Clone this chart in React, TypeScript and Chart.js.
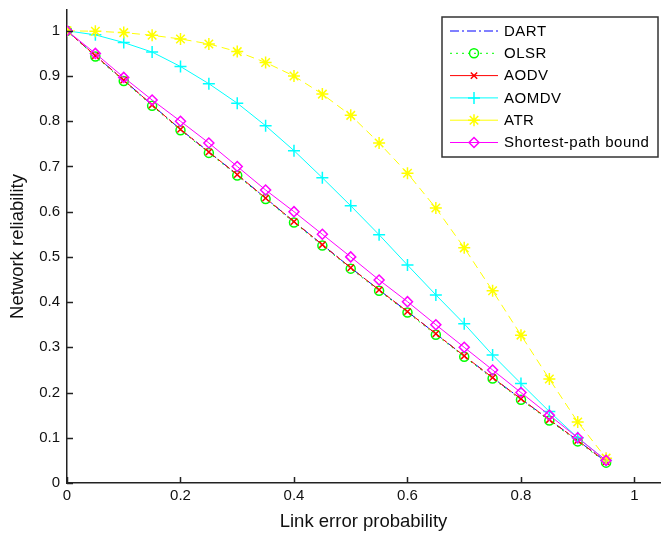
import React, { useEffect, useRef } from "react";
import { Chart, registerables } from "chart.js";

Chart.register(...registerables);

const xValues = [0, 0.05, 0.1, 0.15, 0.2, 0.25, 0.3, 0.35, 0.4, 0.45, 0.5, 0.55, 0.6, 0.65, 0.7, 0.75, 0.8, 0.85, 0.9, 0.95];
const dart = [1, 0.945, 0.891, 0.836, 0.782, 0.732, 0.682, 0.63, 0.578, 0.527, 0.476, 0.427, 0.379, 0.33, 0.281, 0.233, 0.186, 0.14, 0.094, 0.047];
const olsr = [1, 0.943, 0.889, 0.834, 0.78, 0.73, 0.68, 0.628, 0.576, 0.525, 0.474, 0.425, 0.377, 0.328, 0.279, 0.231, 0.184, 0.138, 0.092, 0.045];
const aodv = [1, 0.945, 0.891, 0.836, 0.782, 0.732, 0.682, 0.63, 0.578, 0.527, 0.476, 0.427, 0.379, 0.33, 0.281, 0.233, 0.186, 0.14, 0.094, 0.047];
const aomdv = [1, 0.991, 0.974, 0.953, 0.921, 0.883, 0.84, 0.79, 0.735, 0.675, 0.613, 0.549, 0.482, 0.416, 0.352, 0.283, 0.22, 0.158, 0.1, 0.05];
const atr = [1, 0.999, 0.996, 0.99, 0.982, 0.971, 0.954, 0.93, 0.9, 0.86, 0.813, 0.752, 0.685, 0.608, 0.52, 0.425, 0.327, 0.23, 0.135, 0.055];
const shortest = [1, 0.95, 0.897, 0.847, 0.8, 0.752, 0.7, 0.648, 0.6, 0.55, 0.5, 0.449, 0.401, 0.35, 0.3, 0.25, 0.2, 0.15, 0.1, 0.05];

const seriesNames = ["DART", "OLSR", "AODV", "AOMDV", "ATR", "Shortest-path bound"];
const xTicks = [0, 0.2, 0.4, 0.6, 0.8, 1];
const yTicks = [0, 0.1, 0.2, 0.3, 0.4, 0.5, 0.6, 0.7, 0.8, 0.9, 1];
const xTitle = "Link error probability";
const yTitle = "Network reliability";

const FONT = "'Liberation Sans', Arial, Helvetica, sans-serif";

const toPoints = (ys: number[]) => xValues.map((x, i) => ({ x, y: ys[i] }));

const fmt = (v: number) => String(Number(v.toFixed(2)));

const inwardTicks = {
  id: "inwardTicks",
  afterDraw(chart: any) {
    const { ctx } = chart;
    const xs = chart.scales.x;
    const ys = chart.scales.y;
    const area = chart.chartArea;
    ctx.save();
    ctx.strokeStyle = "#222";
    ctx.lineWidth = 1.5;
    ctx.beginPath();
    xs.ticks.forEach((t: any) => {
      const px = Math.round(xs.getPixelForValue(t.value)) + 0.5;
      ctx.moveTo(px, area.bottom);
      ctx.lineTo(px, area.bottom - 6);
    });
    ys.ticks.forEach((t: any) => {
      const py = Math.round(ys.getPixelForValue(t.value)) + 0.5;
      ctx.moveTo(area.left, py);
      ctx.lineTo(area.left + 6, py);
    });
    ctx.stroke();
    ctx.restore();
  },
};

function drawMarker(ctx: CanvasRenderingContext2D, style: string, r: number, x: number, y: number) {
  ctx.beginPath();
  if (style === "circle") {
    ctx.arc(x, y, r, 0, Math.PI * 2);
  } else if (style === "rectRot") {
    ctx.moveTo(x, y - r);
    ctx.lineTo(x + r, y);
    ctx.lineTo(x, y + r);
    ctx.lineTo(x - r, y);
    ctx.closePath();
  } else if (style === "cross") {
    ctx.moveTo(x - r, y);
    ctx.lineTo(x + r, y);
    ctx.moveTo(x, y - r);
    ctx.lineTo(x, y + r);
  } else if (style === "crossRot") {
    const d = r * 0.7071;
    ctx.moveTo(x - d, y - d);
    ctx.lineTo(x + d, y + d);
    ctx.moveTo(x - d, y + d);
    ctx.lineTo(x + d, y - d);
  } else if (style === "star") {
    const d = r * 0.7071;
    ctx.moveTo(x - r, y);
    ctx.lineTo(x + r, y);
    ctx.moveTo(x, y - r);
    ctx.lineTo(x, y + r);
    ctx.moveTo(x - d, y - d);
    ctx.lineTo(x + d, y + d);
    ctx.moveTo(x - d, y + d);
    ctx.lineTo(x + d, y - d);
  }
  ctx.stroke();
}

const boxLegend = {
  id: "boxLegend",
  afterDraw(chart: any) {
    const { ctx } = chart;
    const bx = 442, by = 17, bw = 216, bh = 140;
    ctx.save();
    ctx.fillStyle = "#fff";
    ctx.fillRect(bx, by, bw, bh);
    ctx.strokeStyle = "#333";
    ctx.lineWidth = 1.5;
    ctx.strokeRect(bx, by, bw, bh);
    chart.data.datasets.forEach((ds: any, i: number) => {
      const y = 31 + i * 22.3;
      ctx.strokeStyle = ds.borderColor;
      ctx.lineWidth = 1;
      ctx.setLineDash(ds.legendDash || []);
      ctx.beginPath();
      ctx.moveTo(450, y);
      ctx.lineTo(498, y);
      ctx.stroke();
      ctx.setLineDash([]);
      if (ds.pointRadius > 0) {
        ctx.lineWidth = ds.pointBorderWidth || 1;
        ctx.strokeStyle = ds.borderColor;
        drawMarker(ctx, ds.pointStyle, ds.pointRadius, 474, y);
      }
      ctx.fillStyle = "#000";
      ctx.font = `15px ${FONT}`;
      try {
        (ctx as any).letterSpacing = "0.5px";
      } catch (e) {}
      ctx.textBaseline = "middle";
      ctx.textAlign = "left";
      ctx.fillText(ds.label, 504, y + 0.5);
      try {
        (ctx as any).letterSpacing = "0px";
      } catch (e) {}
    });
    ctx.restore();
  },
};

export default function App() {
  const ref = useRef<HTMLCanvasElement | null>(null);

  useEffect(() => {
    if (!ref.current) return;
    const mk = (
      label: string,
      ys: number[],
      color: string,
      dash: number[],
      legendDash: number[],
      pointStyle: any,
      radius: number,
      idx: number
    ) => ({
      label,
      data: toPoints(ys),
      borderColor: color,
      backgroundColor: "rgba(0,0,0,0)",
      borderWidth: 1,
      borderDash: dash,
      legendDash,
      pointStyle: pointStyle || "circle",
      pointRadius: pointStyle ? radius : 0,
      pointHoverRadius: pointStyle ? radius : 0,
      pointBorderColor: color,
      pointBackgroundColor: "rgba(0,0,0,0)",
      pointBorderWidth: 1.5,
      tension: 0,
      fill: false,
      order: -idx,
    });

    const chart = new Chart(ref.current, {
      type: "line",
      data: {
        datasets: [
          mk(seriesNames[0], dart, "#0000ff", [9, 3, 2, 3], [9, 3, 2, 3], null, 0, 0),
          mk(seriesNames[1], olsr, "#00ff00", [2, 4], [2, 4], "circle", 4.5, 1),
          mk(seriesNames[2], aodv, "#ff0000", [6, 3], [], "crossRot", 4.5, 2),
          mk(seriesNames[3], aomdv, "#00ffff", [], [], "cross", 6, 3),
          mk(seriesNames[4], atr, "#ffff00", [8, 5], [], "star", 6, 4),
          mk(seriesNames[5], shortest, "#ff00ff", [], [], "rectRot", 5, 5),
        ] as any,
      },
      options: {
        responsive: false,
        animation: false,
        devicePixelRatio: 1,
        layout: { autoPadding: false, padding: { top: 10, right: 1, left: 0, bottom: 0 } },
        plugins: {
          legend: { display: false },
          tooltip: { enabled: false },
        },
        events: [],
        scales: {
          x: {
            type: "linear",
            min: 0,
            max: 1.045,
            afterFit: (s: any) => {
              s.height = 53;
              s.paddingLeft = 0;
              s.paddingRight = 0;
            },
            afterBuildTicks: (s: any) => {
              s.ticks = xTicks.map((v) => ({ value: v }));
            },
            ticks: {
              color: "#111",
              font: { family: FONT, size: 15 },
              padding: 4,
              maxRotation: 0,
              autoSkip: false,
              callback: (v: any) => fmt(Number(v)),
            },
            grid: { display: true, drawOnChartArea: false, drawTicks: false },
            border: { display: true, color: "#222", width: 1.5 },
            title: {
              display: true,
              text: xTitle,
              color: "#111",
              font: { family: FONT, size: 18.5 },
              padding: { top: 0, bottom: 3 },
            },
          },
          y: {
            type: "linear",
            min: 0,
            max: 1.046,
            afterFit: (s: any) => {
              s.width = 67;
              s.paddingTop = 0;
              s.paddingBottom = 0;
            },
            afterBuildTicks: (s: any) => {
              s.ticks = yTicks.map((v) => ({ value: v }));
            },
            ticks: {
              color: "#111",
              font: { family: FONT, size: 15 },
              padding: 7,
              autoSkip: false,
              callback: (v: any) => fmt(Number(v)),
            },
            grid: { display: true, drawOnChartArea: false, drawTicks: false },
            border: { display: true, color: "#222", width: 1.5 },
            title: {
              display: true,
              text: yTitle,
              color: "#111",
              font: { family: FONT, size: 18.5 },
              padding: { top: 7, bottom: 0 },
            },
          },
        },
      },
      plugins: [inwardTicks, boxLegend],
    });
    return () => chart.destroy();
  }, []);

  return (
    <div style={{ position: "absolute", left: 0, top: 0, width: 661, height: 536, background: "#fff" }}>
      <canvas ref={ref} width={661} height={536} style={{ width: 661, height: 536, display: "block" }} />
    </div>
  );
}
